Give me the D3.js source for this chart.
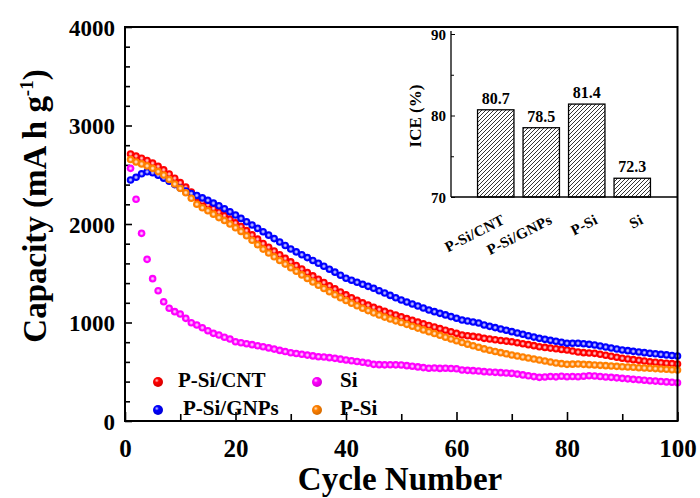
<!DOCTYPE html>
<html>
<head>
<meta charset="utf-8">
<script src="https://cdnjs.cloudflare.com/ajax/libs/d3/7.8.5/d3.min.js"></script>
<style>
  body { margin: 0; background: #fff; }
  svg { display: block; }
  text { font-family: "Liberation Serif", "Times New Roman", serif; font-weight: bold; fill: #000; }
</style>
</head>
<body>
<script>

// cycle capacity data (mA h g-1), cycles 1..100
let cntData = [2711, 2690, 2668, 2645, 2618, 2585, 2550, 2508, 2465, 2420, 2375, 2325, 2270, 2230, 2195, 2158, 2120, 2085, 2050, 2012,
               1975, 1933, 1890, 1846, 1802, 1764, 1726, 1688, 1651, 1615, 1579, 1543, 1508, 1473, 1439, 1406, 1373, 1341, 1310, 1280,
               1252, 1225, 1200, 1176, 1154, 1133, 1113, 1094, 1076, 1058, 1040, 1022, 1004, 987, 970, 954, 938, 922, 906, 890,
               873, 866, 859, 852, 839, 832, 825, 818, 811, 805, 795, 785, 775, 765, 754, 747, 740, 734, 727, 721,
               710, 700, 694, 690, 687, 677, 667, 657, 647, 637, 630, 623, 616, 609, 602, 597, 592, 587, 583, 579];

let gnpData = [2447, 2474, 2510, 2530, 2520, 2495, 2465, 2435, 2400, 2365, 2335, 2310, 2290, 2265, 2240, 2212, 2185, 2155, 2125, 2091,
               2057, 2023, 1990, 1956, 1922, 1887, 1852, 1817, 1782, 1746, 1717, 1688, 1659, 1630, 1601, 1571, 1541, 1511, 1480, 1449,
               1429, 1408, 1388, 1367, 1347, 1323, 1299, 1275, 1251, 1228, 1208, 1188, 1168, 1147, 1127, 1110, 1093, 1077, 1060, 1043,
               1025, 1015, 1005, 995, 975, 961, 948, 934, 921, 907, 893, 880, 866, 852, 839, 829, 819, 809, 799, 789,
               789, 789, 785, 778, 772, 762, 751, 741, 731, 721, 714, 707, 701, 694, 687, 682, 676, 671, 665, 660];

let psiData = [2655, 2630, 2610, 2590, 2565, 2532, 2497, 2452, 2406, 2362, 2318, 2262, 2200, 2165, 2135, 2100, 2065, 2035, 2000, 1962,
               1925, 1880, 1835, 1790, 1745, 1706, 1668, 1630, 1593, 1557, 1520, 1483, 1447, 1412, 1378, 1345, 1313, 1282, 1252, 1223,
               1196, 1170, 1145, 1121, 1098, 1076, 1055, 1035, 1017, 1000, 981, 962, 943, 925, 907, 888, 870, 851, 833, 815,
               797, 780, 764, 748, 732, 719, 706, 694, 682, 670, 660, 650, 640, 629, 619, 609, 599, 589, 582, 575,
               577, 579, 575, 572, 569, 565, 562, 558, 555, 551, 548, 545, 541, 538, 535, 532, 528, 525, 521, 518];

let siData = [2565, 2251, 1905, 1641, 1445, 1323, 1211, 1144, 1110, 1086, 1042, 998, 975, 947, 917, 890, 873, 850, 832, 805,
              795, 785, 775, 764, 754, 742, 730, 717, 705, 693, 685, 677, 669, 661, 653, 650, 643, 636, 628, 620,
              612, 604, 596, 588, 575, 572, 570, 571, 570, 569, 562, 556, 549, 542, 535, 538, 534, 536, 533, 530,
              518, 514, 511, 507, 501, 498, 494, 491, 487, 484, 476, 468, 459, 451, 443, 447, 452, 448, 455, 450,
              452, 450, 455, 460, 457, 452, 447, 443, 438, 433, 428, 423, 419, 414, 409, 405, 401, 397, 393, 389];

let seriesNames = ["P-Si/CNT", "P-Si/GNPs", "P-Si", "Si"];
let seriesColors = ["#ff0000", "#0000ff", "#ff8000", "#ff00ff"];

// inset: initial coulombic efficiency
let iceNames = ["P-Si/CNT", "P-Si/GNPs", "P-Si", "Si"];
let iceValues = [80.7, 78.5, 81.4, 72.3];

let xTicks = [0, 20, 40, 60, 80, 100];
let yTicks = [0, 1000, 2000, 3000, 4000];
let iceTicks = [70, 80, 90];

let width = 700, height = 498;
let margin = {"top": 27, "left": 125, "bottom": 421, "right": 677.5};

let svg = d3.select("body").append("svg")
    .attr("width", width)
    .attr("height", height);

let defs = svg.append("defs");

function mix(c, t) {
    return d3.interpolateRgb(c, "#ffffff")(t);
}

// ball-like marker gradients
seriesColors.forEach((c, i) => {
    let g = defs.append("radialGradient").attr("id", "ball" + i)
        .attr("cx", "50%").attr("cy", "50%").attr("r", "50%");
    g.append("stop").attr("offset", "0%").attr("stop-color", mix(c, 0.85));
    g.append("stop").attr("offset", "30%").attr("stop-color", mix(c, 0.55));
    g.append("stop").attr("offset", "58%").attr("stop-color", c);
    g.append("stop").attr("offset", "100%").attr("stop-color", c);

    let lg = defs.append("radialGradient").attr("id", "leg" + i)
        .attr("cx", "38%").attr("cy", "35%").attr("r", "60%");
    lg.append("stop").attr("offset", "0%").attr("stop-color", mix(c, 0.8));
    lg.append("stop").attr("offset", "35%").attr("stop-color", c);
    lg.append("stop").attr("offset", "100%").attr("stop-color", d3.interpolateRgb(c, "#000")(0.15));
});

// hatch for inset bars
defs.append("pattern").attr("id", "hatch")
    .attr("patternUnits", "userSpaceOnUse")
    .attr("width", 4).attr("height", 4)
  .append("path")
    .attr("d", "M-1,1 l2,-2 M0,4 l4,-4 M3,5 l2,-2")
    .attr("stroke", "#000").attr("stroke-width", 0.8);

let x = d3.scaleLinear().domain([0, 100]).range([margin.left, margin.right]);
let y = d3.scaleLinear().domain([0, 4000]).range([margin.bottom, margin.top]);

// ---------- main axes ----------
let yAxis = svg.append("g").attr("transform", `translate(${margin.left},0)`)
    .call(d3.axisLeft(y).tickValues(yTicks).tickSize(-7).tickPadding(10).tickFormat(d3.format("d")));
let yMinor = svg.append("g").attr("transform", `translate(${margin.left},0)`)
    .call(d3.axisLeft(y).tickValues(d3.range(200, 4000, 200).filter(v => v % 1000)).tickSize(-5).tickFormat(""));
let xAxis = svg.append("g").attr("transform", `translate(0,${margin.bottom})`)
    .call(d3.axisBottom(x).tickValues(xTicks).tickSize(-9).tickPadding(18));
let xMinor = svg.append("g").attr("transform", `translate(0,${margin.bottom})`)
    .call(d3.axisBottom(x).tickValues([10, 30, 50, 70, 90]).tickSize(-7).tickFormat(""));

[yAxis, yMinor, xAxis, xMinor].forEach(a => {
    a.select(".domain").remove();
    a.selectAll(".tick line").attr("stroke", "#000").attr("stroke-width", 1.6);
});
yAxis.selectAll("text").style("font-size", "23px").attr("dy", "0.35em");
xAxis.selectAll("text").style("font-size", "25px").attr("dy", "0.72em");

svg.append("text")
    .attr("x", 400).attr("y", 490)
    .attr("text-anchor", "middle")
    .style("font-size", "33px")
    .text("Cycle Number");

let yl = svg.append("text")
    .attr("transform", "translate(46,206) rotate(-90)")
    .attr("text-anchor", "middle")
    .style("font-size", "33px");
yl.append("tspan").text("Capacity (mA h g");
yl.append("tspan").attr("dy", -13).style("font-size", "19px").text("-1");
yl.append("tspan").attr("dy", 13).text(")");

// ---------- data ----------
let allSeries = [cntData, gnpData, psiData, siData];
allSeries.forEach((vals, i) => {
    svg.append("g")
        .selectAll("circle")
        .data(vals)
        .join("circle")
            .attr("cx", (d, j) => x(j + 1))
            .attr("cy", d => y(d))
            .attr("r", 3.8)
            .attr("fill", `url(#ball${i})`);
});

// legend
let legendPos = [[158, 382, 178, 387], [158, 410, 183, 415], [317, 410, 340, 415], [317, 382, 340, 387]];
seriesNames.forEach((name, i) => {
    let p = legendPos[i];
    svg.append("circle").attr("cx", p[0]).attr("cy", p[1]).attr("r", 5)
        .attr("fill", `url(#leg${i})`);
    svg.append("text").attr("x", p[2]).attr("y", p[3])
        .style("font-size", "21px").text(name);
});

// frame
svg.append("rect")
    .attr("x", margin.left).attr("y", margin.top)
    .attr("width", margin.right - margin.left)
    .attr("height", margin.bottom - margin.top)
    .attr("fill", "none").attr("stroke", "#000").attr("stroke-width", 2);

// ---------- inset ----------
let inset = {"left": 451, "right": 677.5, "top": 31, "bottom": 197};
let xi = d3.scaleBand().domain(iceNames).range([473, 655]).paddingInner(0.2).paddingOuter(0.1);
let yi = d3.scaleLinear().domain([70, 90]).range([inset.bottom, 34]);

let g = svg.append("g");
let yiAxis = g.append("g").attr("transform", `translate(${inset.left},0)`)
    .call(d3.axisLeft(yi).tickValues(iceTicks).tickSize(-4).tickPadding(5));
g.append("g").attr("transform", `translate(${inset.left},0)`)
    .call(d3.axisLeft(yi).tickValues([75, 85]).tickSize(-3).tickFormat(""))
    .select(".domain").remove();
yiAxis.select(".domain").remove();
g.selectAll(".tick line").attr("stroke", "#000").attr("stroke-width", 1);
yiAxis.selectAll("text").style("font-size", "15px").attr("dy", "0.35em");

g.append("line")
    .attr("x1", inset.left).attr("x2", inset.left)
    .attr("y1", inset.top).attr("y2", inset.bottom)
    .attr("stroke", "#000").attr("stroke-width", 1.3);
g.append("line")
    .attr("x1", inset.left).attr("x2", inset.right)
    .attr("y1", inset.bottom).attr("y2", inset.bottom)
    .attr("stroke", "#000").attr("stroke-width", 1.3);

g.selectAll("rect.bar")
    .data(iceValues)
    .join("rect")
        .attr("class", "bar")
        .attr("x", (d, i) => xi(iceNames[i]))
        .attr("y", d => yi(d))
        .attr("width", xi.bandwidth())
        .attr("height", d => yi(70) - yi(d))
        .attr("fill", "url(#hatch)")
        .attr("stroke", "#000").attr("stroke-width", 1.3);

g.selectAll("text.val")
    .data(iceValues)
    .join("text")
        .attr("class", "val")
        .attr("x", (d, i) => xi(iceNames[i]) + xi.bandwidth() / 2)
        .attr("y", d => yi(d) - 6)
        .attr("text-anchor", "middle")
        .style("font-size", "16px")
        .text(d => d.toFixed(1));

g.selectAll("text.cat")
    .data(iceNames)
    .join("text")
        .attr("class", "cat")
        .attr("text-anchor", "end")
        .attr("transform", (d, i) => `translate(${xi(d) + xi.bandwidth() / 2 + (i === 0 ? 10 : 12)},223) rotate(-27)`)
        .style("font-size", "15px")
        .style("letter-spacing", "0.3px")
        .text(d => d);

g.append("text")
    .attr("transform", "translate(421,116) rotate(-90)")
    .attr("text-anchor", "middle")
    .style("font-size", "17px")
    .text("ICE (%)");

</script>
</body>
</html>
